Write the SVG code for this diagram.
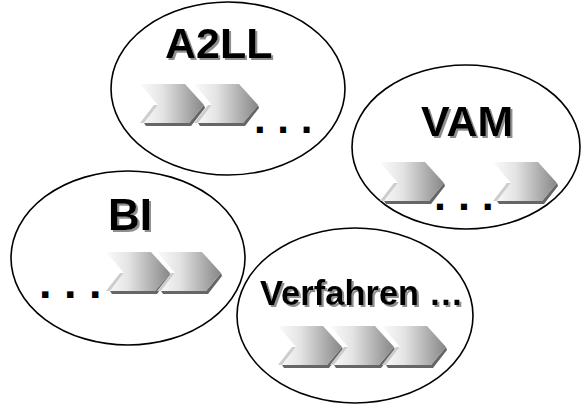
<svg xmlns="http://www.w3.org/2000/svg" xmlns:xlink="http://www.w3.org/1999/xlink" width="583" height="407" viewBox="0 0 583 407">
  <style>
    .bubble { fill: none; stroke: #000; stroke-width: 1.6; }
    .title { font-family: "Liberation Sans", Arial, sans-serif; font-weight: bold; fill: #000; filter: url(#textShadow); }
    .dots { font-family: "Liberation Sans", Arial, sans-serif; font-weight: bold; fill: #000; }
  </style>
  <defs>
    <filter id="textShadow" x="-10%" y="-20%" width="130%" height="150%">
      <feDropShadow dx="2" dy="2" stdDeviation="0.4" flood-color="#8f8f8f" flood-opacity="1"/>
    </filter>
    <linearGradient id="chevGrad" x1="0" y1="0" x2="1" y2="0">
      <stop offset="0" stop-color="#fbfbfb"/>
      <stop offset="0.35" stop-color="#e4e4e4"/>
      <stop offset="1" stop-color="#878787"/>
    </linearGradient>
    <g id="chev">
      <polygon points="4,39 49,39 64,21 65,24 51,42 6,42" fill="#666"/>
      <polygon points="18,21 4,39 0,39 14,21" fill="#cdcdcd"/>
      <polygon points="0,0 45,0 64,21 49,39 4,39 18,21" fill="url(#chevGrad)"/>
    </g>
  </defs>
  <rect width="583" height="407" fill="#fff"/>

  <g id="node-a2ll">
    <ellipse class="bubble" cx="228" cy="88.5" rx="117" ry="86.5"/>
    <text class="title" x="165" y="58" font-size="43">A2LL</text>
    <use xlink:href="#chev" x="140" y="84"/>
    <use xlink:href="#chev" x="194" y="84"/>
    <text class="dots" x="254" y="133" font-size="42">. . .</text>
  </g>

  <g id="node-vam">
    <ellipse class="bubble" cx="466" cy="147" rx="114" ry="82"/>
    <text class="title" x="421" y="136" font-size="43">VAM</text>
    <use xlink:href="#chev" x="380" y="162"/>
    <use xlink:href="#chev" x="493" y="162"/>
    <text class="dots" x="434" y="210" font-size="43">. . .</text>
  </g>

  <g id="node-bi">
    <ellipse class="bubble" cx="128" cy="258" rx="117" ry="87"/>
    <text class="title" x="108" y="230" font-size="44">BI</text>
    <use xlink:href="#chev" x="106" y="252"/>
    <use xlink:href="#chev" x="157" y="252"/>
    <text class="dots" x="39" y="298" font-size="45">. . .</text>
  </g>

  <g id="node-verfahren">
    <ellipse class="bubble" cx="355" cy="315.5" rx="118" ry="87.5"/>
    <text class="title" x="260" y="305" font-size="34.5">Verfahren …</text>
    <use xlink:href="#chev" x="278" y="326"/>
    <use xlink:href="#chev" x="330" y="326"/>
    <use xlink:href="#chev" x="382" y="326"/>
  </g>
</svg>
